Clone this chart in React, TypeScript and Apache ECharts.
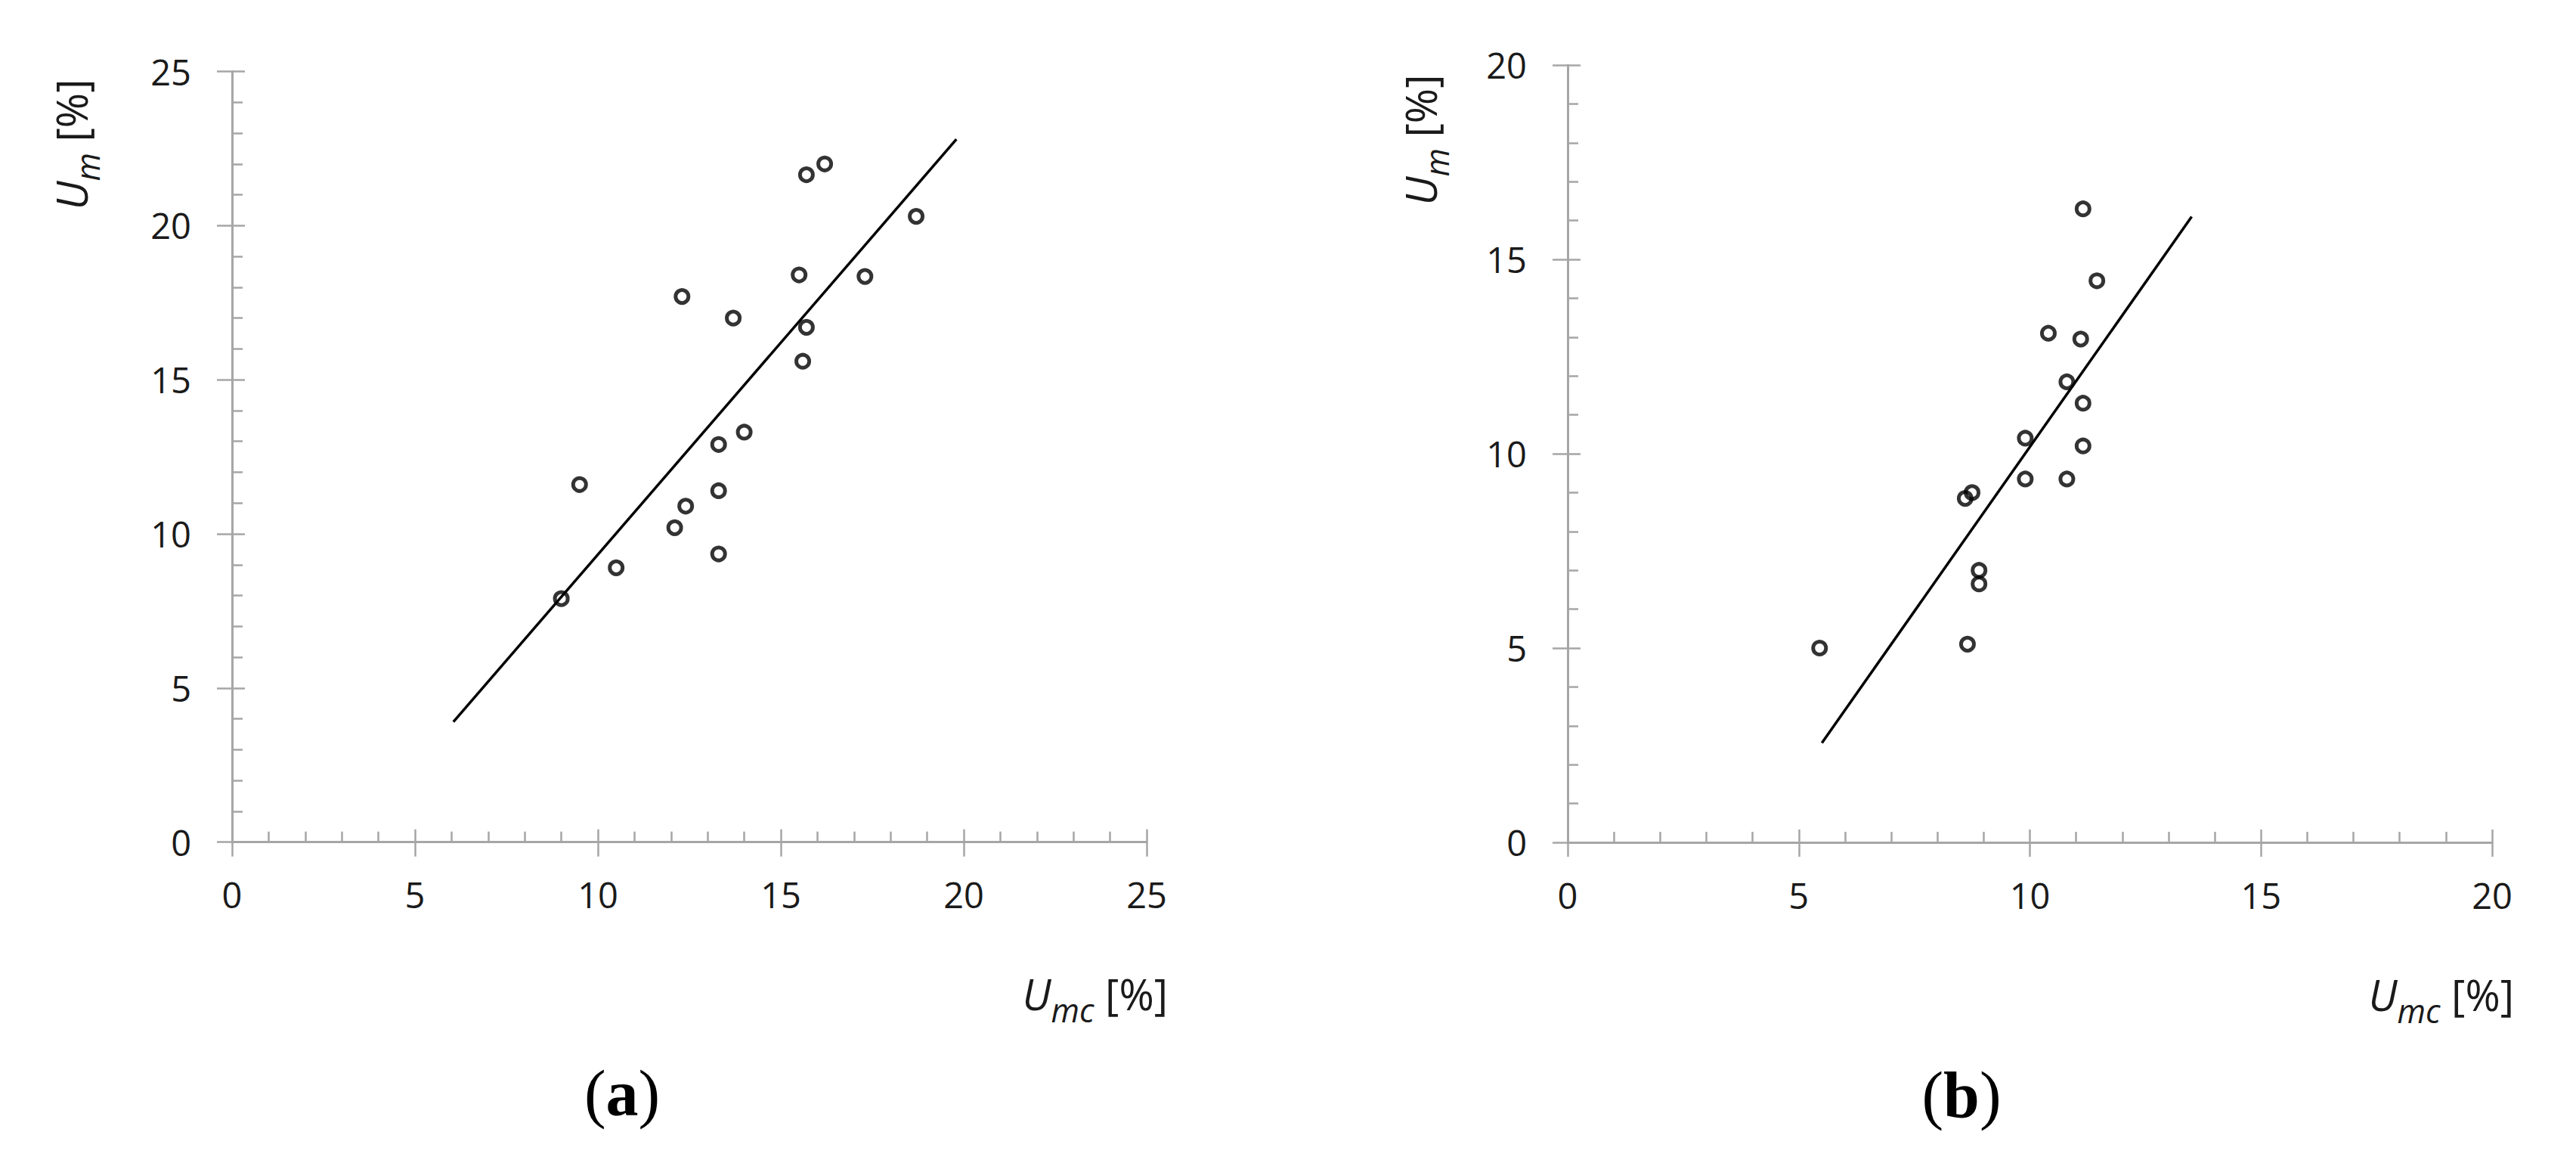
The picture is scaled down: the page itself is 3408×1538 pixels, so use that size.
import React, { useEffect, useRef } from "react";
import * as echarts from "echarts";

// Panel (a)
const umcA = [9.0, 9.5, 10.5, 12.1, 12.4, 12.3, 13.3, 13.3, 13.3, 14.0, 13.7, 15.5, 15.7, 16.2, 15.7, 15.6, 17.3, 18.7];
const umA = [7.9, 11.6, 8.9, 10.2, 10.9, 17.7, 9.35, 11.4, 12.9, 13.3, 17.0, 18.4, 21.65, 22.0, 16.7, 15.6, 18.35, 20.3];
const fitXA = [6.05, 19.8];
const fitYA = [3.9, 22.8];
const ticksA = [0, 5, 10, 15, 20, 25];

// Panel (b)
const umcB = [5.45, 8.65, 8.6, 8.75, 8.9, 8.9, 9.9, 9.9, 10.4, 10.8, 10.8, 11.1, 11.15, 11.15, 11.15, 11.45];
const umB = [5.0, 5.1, 8.85, 9.0, 7.0, 6.65, 10.4, 9.35, 13.1, 11.85, 9.35, 12.95, 16.3, 11.3, 10.2, 14.45];
const fitXB = [5.5, 13.5];
const fitYB = [2.56, 16.1];
const ticksB = [0, 5, 10, 15, 20];

const panelLabels = ["a", "b"];

const GRAY = "#a6a6a6";
const TXT = "#1a1a1a";
const SANS = "'Open Sans', 'Noto Sans', 'DejaVu Sans', sans-serif";
const SERIF = "'Liberation Serif', 'DejaVu Serif', serif";

function pairs(xs: number[], ys: number[]) {
  return xs.map((x, i) => [x, ys[i]]);
}

function mainAxis(gridIndex: number, ticks: number[], isX: boolean) {
  return {
    type: "value",
    gridIndex,
    min: ticks[0],
    max: ticks[ticks.length - 1],
    interval: ticks[1] - ticks[0],
    position: isX ? "bottom" : "left",
    axisLine: { show: true, onZero: false, lineStyle: { color: GRAY, width: 3 } },
    axisTick: { show: true, inside: false, length: isX ? 19 : 20, lineStyle: { color: GRAY, width: 2.5 } },
    minorTick: { show: false },
    axisLabel: { show: true, margin: isX ? 46 : 54, fontSize: 47, fontFamily: SANS, color: TXT },
    splitLine: { show: false },
    minorSplitLine: { show: false },
  };
}

function innerAxis(gridIndex: number, ticks: number[], isX: boolean) {
  return {
    type: "value",
    gridIndex,
    min: ticks[0],
    max: ticks[ticks.length - 1],
    interval: ticks[1] - ticks[0],
    position: isX ? "bottom" : "left",
    axisLine: { show: false, onZero: false },
    axisTick: { show: true, inside: true, length: 17, lineStyle: { color: GRAY, width: 2.5 } },
    minorTick: { show: true, splitNumber: 5, length: 14, lineStyle: { color: GRAY, width: 2.5 } },
    axisLabel: { show: false },
    splitLine: { show: false },
    minorSplitLine: { show: false },
  };
}

const titleRich = {
  u: { fontFamily: SANS, fontSize: 56, fontStyle: "italic", lineHeight: 60, verticalAlign: "top", fill: TXT },
  s: { fontFamily: SANS, fontSize: 43, fontStyle: "italic", lineHeight: 44, padding: [28, 0, 0, 0], verticalAlign: "top", fill: TXT },
  n: { fontFamily: SANS, fontSize: 56, lineHeight: 60, verticalAlign: "top", fill: TXT },
};

function xTitle(x: number, y: number) {
  return {
    type: "text",
    x,
    y,
    style: { text: "{u|U}{s|mc}{n| [%]}", rich: titleRich, align: "right", verticalAlign: "middle" },
  };
}

function yTitle(x: number, y: number) {
  return {
    type: "text",
    x,
    y,
    rotation: Math.PI / 2,
    style: { text: "{u|U}{s|m}{n| [%]}", rich: titleRich, align: "center", verticalAlign: "middle" },
  };
}

function panelLabel(x: number, y: number, letter: string) {
  return {
    type: "text",
    x,
    y,
    style: {
      text: `{p|(}{b|${letter}}{p|)}`,
      rich: {
        p: { fontFamily: SERIF, fontSize: 86, fill: "#000" },
        b: { fontFamily: SERIF, fontSize: 86, fontWeight: "bold", fill: "#000" },
      },
      align: "center",
      verticalAlign: "middle",
    },
  };
}

function scatterSeries(xi: number, xs: number[], ys: number[]) {
  return {
    type: "scatter",
    xAxisIndex: xi,
    yAxisIndex: xi,
    data: pairs(xs, ys),
    symbol: "circle",
    symbolSize: 17,
    itemStyle: { color: "rgba(0,0,0,0)", borderColor: "#000", borderWidth: 5 },
    z: 5,
  };
}

function fitSeries(xi: number, xs: number[], ys: number[]) {
  return {
    type: "line",
    xAxisIndex: xi,
    yAxisIndex: xi,
    data: pairs(xs, ys),
    symbol: "none",
    showSymbol: false,
    lineStyle: { color: "#000", width: 3.5 },
    z: 4,
  };
}

export default function App() {
  const ref = useRef<HTMLDivElement>(null);
  useEffect(() => {
    if (!ref.current) return;
    const chart = echarts.init(ref.current, undefined, { renderer: "svg" });
    chart.setOption({
      animation: false,
      backgroundColor: "#fff",
      grid: [
        { left: 307, top: 94.5, width: 1210, height: 1019.2 },
        { left: 2074, top: 86, width: 1223, height: 1028 },
      ],
      xAxis: [
        mainAxis(0, ticksA, true),
        innerAxis(0, ticksA, true),
        mainAxis(1, ticksB, true),
        innerAxis(1, ticksB, true),
      ],
      yAxis: [
        mainAxis(0, ticksA, false),
        innerAxis(0, ticksA, false),
        mainAxis(1, ticksB, false),
        innerAxis(1, ticksB, false),
      ],
      series: [
        fitSeries(0, fitXA, fitYA),
        scatterSeries(0, umcA, umA),
        fitSeries(2, fitXB, fitYB),
        scatterSeries(2, umcB, umB),
      ],
      graphic: [
        yTitle(96, 191),
        yTitle(1881, 185),
        xTitle(1545, 1316),
        xTitle(3326, 1317),
        panelLabel(823, 1446, panelLabels[0]),
        panelLabel(2595, 1448, panelLabels[1]),
      ],
    });
    return () => chart.dispose();
  }, []);
  return (
    <div
      ref={ref}
      style={{ position: "fixed", left: 0, top: 0, width: "3408px", height: "1538px", background: "#fff" }}
    />
  );
}
